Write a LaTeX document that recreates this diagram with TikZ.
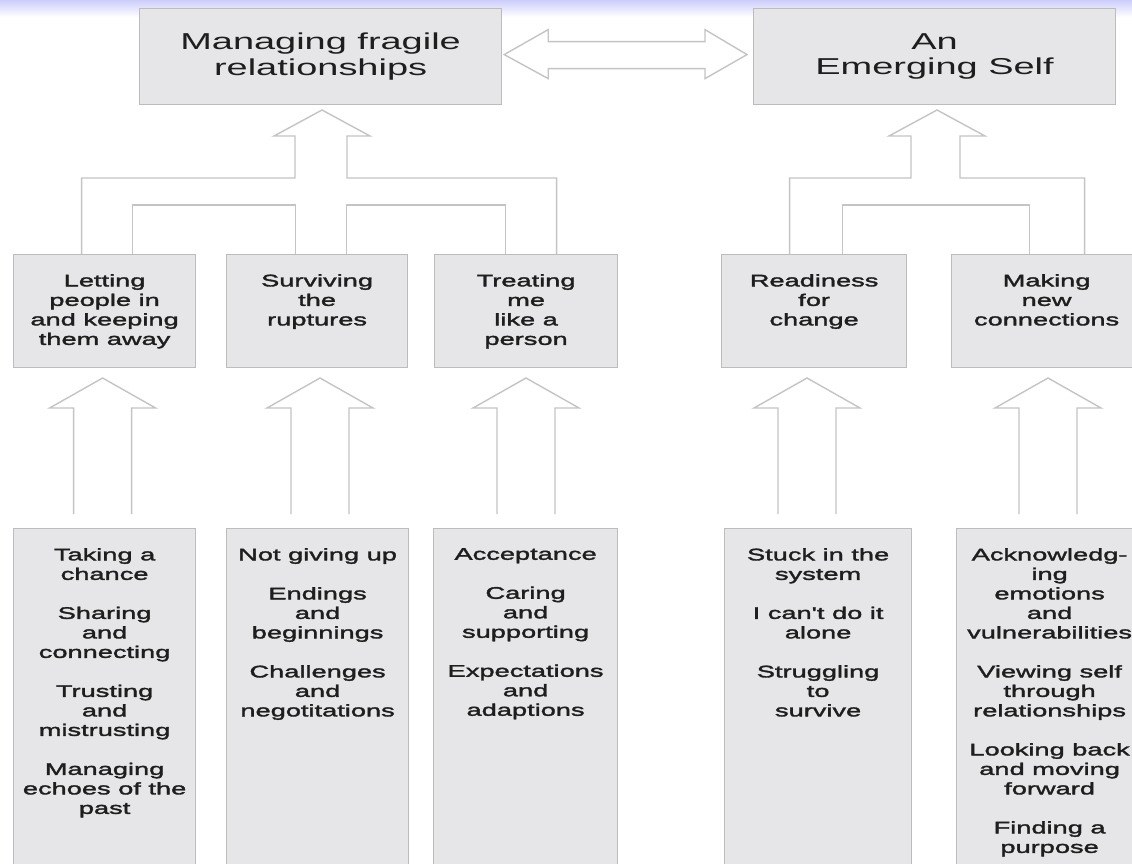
\documentclass[tikz,border=0pt]{standalone}
\usepackage{fontspec}
\setmainfont{Liberation Sans}[FakeStretch=1.65, Ligatures=TeXOff]
\newfontfamily\boxfont{Liberation Sans}[FakeStretch=1.62, FakeBold=2, Ligatures=TeXOff]
\usetikzlibrary{calc}
\definecolor{boxfill}{RGB}{230,230,232}
\definecolor{boxline}{RGB}{188,188,190}
\definecolor{arrowline}{RGB}{196,196,196}
\definecolor{ink}{RGB}{30,30,30}
\definecolor{haze}{RGB}{205,205,250}

\begin{document}
\begin{tikzpicture}[x=1pt,y=-1pt,
  box/.style={draw=boxline, line width=1.2pt, fill=boxfill, rectangle, inner sep=0pt, anchor=north west},
  bigtext/.style={text=ink, align=center, font=\fontsize{23}{25.5}\selectfont},
  smalltext/.style={text=ink, align=center, anchor=north, inner sep=0pt, font=\boxfont\fontsize{16.8}{19.5}\selectfont},
  blockarrow/.style={draw=arrowline, line width=1.4pt, line join=miter},
  upblock/.pic={\draw[blockarrow] (-29,136) -- (-29,30) -- (-53,30) -- (0,0) -- (53,30) -- (29,30) -- (29,136);}
]
\useasboundingbox (0,0) rectangle (1132,863);
\clip (0,0) rectangle (1132,863);
\fill[white] (0,0) rectangle (1132,863);
\shade[top color=haze, bottom color=white] (0,0) rectangle (1132,17);

% top level themes
\node[box, minimum width=362pt, minimum height=96pt, bigtext] (t1) at (139,8) {Managing fragile\\relationships};
\node[box, minimum width=362pt, minimum height=96pt, bigtext] (t2) at (753,8) {An\\Emerging Self};

% two-headed block arrow between the themes
\coordinate (dl) at ($(t1.east)+(2,-2)$);
\coordinate (dr) at ($(t2.west)+(-6,-2)$);
\draw[blockarrow] (dl) -- ($(dl)+(44,-25)$) -- ($(dl)+(44,-13)$) -- ($(dr)+(-42,-13)$) -- ($(dr)+(-42,-25)$)
  -- (dr) -- ($(dr)+(-42,24)$) -- ($(dr)+(-42,14)$) -- ($(dl)+(44,14)$) -- ($(dl)+(44,24)$) -- cycle;

% subthemes
\node[box, minimum width=182pt, minimum height=113pt] (m1) at (13,254) {};
\node[box, minimum width=181pt, minimum height=113pt] (m2) at (226,254) {};
\node[box, minimum width=183pt, minimum height=113pt] (m3) at (434,254) {};
\node[box, minimum width=185pt, minimum height=113pt] (m4) at (721,254) {};
\node[box, minimum width=190pt, minimum height=113pt] (m5) at (951,254) {};

\node[smalltext] (m1t) at ($(m1.north)+(0,20)$) {Letting\\people in\\and keeping\\them away};
\node[smalltext] (m2t) at ($(m2.north)+(0,20)$) {Surviving\\the\\ruptures};
\node[smalltext] (m3t) at ($(m3.north)+(0,20)$) {Treating\\me\\like a\\person};
\node[smalltext] (m4t) at ($(m4.north)+(0,20)$) {Readiness\\for\\change};
\node[smalltext] (m5t) at ($(m5.north)+(0,20)$) {Making\\new\\connections};

% forked block arrow: left group
\draw[blockarrow] ([xshift=-23pt]m1.north) -- ++(0,-76) -| (295,136) -- (274,136) -- (322,110) -- (370,136)
  -- (347,136) -- (347,178) -| ([xshift=30.5pt]m3.north);
\draw[blockarrow] ([xshift=28pt]m1.north) -- ++(0,-49) -| ([xshift=-21.5pt]m2.north);
\draw[blockarrow] ([xshift=29.5pt]m2.north) -- ++(0,-49) -| ([xshift=-20.5pt]m3.north);

% forked block arrow: right group
\draw[blockarrow] ([xshift=-24.5pt]m4.north) -- ++(0,-76) -| (911,136) -- (889,136) -- (937,110) -- (985,136)
  -- (960,136) -- (960,178) -| ([xshift=38pt]m5.north);
\draw[blockarrow] ([xshift=28.5pt]m4.north) -- ++(0,-49) -| ([xshift=-17pt]m5.north);

% block arrows rising from the codes
\pic at (102.6,378) {upblock};
\pic at (320,378) {upblock};
\pic at (526,378) {upblock};
\pic at (807,378) {upblock};
\pic at (1048,378) {upblock};

% codes
\node[box, minimum width=182pt, minimum height=350pt] (b1) at (13,528) {};
\node[box, minimum width=182pt, minimum height=350pt] (b2) at (226,528) {};
\node[box, minimum width=184pt, minimum height=350pt] (b3) at (433,528) {};
\node[box, minimum width=187pt, minimum height=350pt] (b4) at (724,528) {};
\node[box, minimum width=186pt, minimum height=350pt] (b5) at (956,528) {};

\node[smalltext] (b1t) at ($(b1.north)+(0,20)$) {Taking a\\chance\\[19.5pt]Sharing\\and\\connecting\\[19.5pt]Trusting\\and\\mistrusting\\[19.5pt]Managing\\echoes of the\\past};
\node[smalltext] (b2t) at ($(b2.north)+(0,20)$) {Not giving up\\[19.5pt]Endings\\and\\beginnings\\[19.5pt]Challenges\\and\\negotitations};
\node[smalltext] (b3t) at ($(b3.north)+(0,20)$) {Acceptance\\[19.5pt]Caring\\and\\supporting\\[19.5pt]Expectations\\and\\adaptions};
\node[smalltext] (b4t) at ($(b4.north)+(0,20)$) {Stuck in the\\system\\[19.5pt]I can't do it\\alone\\[19.5pt]Struggling\\to\\survive};
\node[smalltext] (b5t) at ($(b5.north)+(0,20)$) {Acknowledg-\\ing\\emotions\\and\\vulnerabilities\\[19.5pt]Viewing self\\through\\relationships\\[19.5pt]Looking back\\and moving\\forward\\[19.5pt]Finding a\\purpose};
\end{tikzpicture}
\end{document}
